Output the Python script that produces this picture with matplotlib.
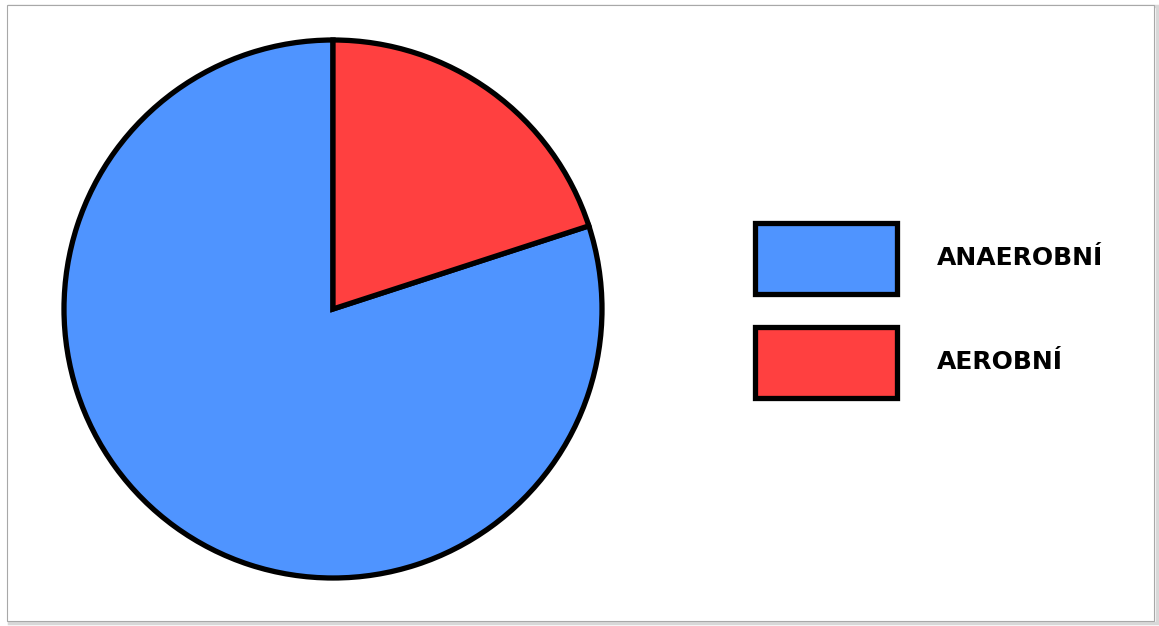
from matplotlib import pyplot as plt
from matplotlib.patches import Rectangle

labels = ["ANAEROBNÍ", "AEROBNÍ"]
shares = [80, 20]
colors = ["#4f94ff", "#ff4040"]

W, H = 1159, 626
fig = plt.figure(figsize=(W / 100, H / 100), dpi=100)

# light picture frame with a soft shadow, kept behind the chart
fig.patches.append(Rectangle((9 / W, 3 / H), 1148 / W, 617 / H, transform=fig.transFigure,
                             facecolor="none", edgecolor="#d8d8d8", lw=2.5, zorder=-2))
fig.patches.append(Rectangle((7 / W, 5 / H), 1147 / W, 616 / H, transform=fig.transFigure,
                             facecolor="white", edgecolor="#a8a8a8", lw=0.8, zorder=-1))

cx, cy, r = 333, 309, 269
ax = fig.add_axes([(cx - r) / W, (H - cy - r) / H, 2 * r / W, 2 * r / H])
wedges, _ = ax.pie(shares, colors=colors, startangle=90, counterclock=True,
                   wedgeprops=dict(edgecolor="black", linewidth=3.8))
ax.set_xlim(-1, 1)
ax.set_ylim(-1, 1)
ax.set_aspect("equal")
ax.axis("off")

leg = fig.legend(wedges, labels, loc="upper left",
                 bbox_to_anchor=(755 / W, (H - 223) / H),
                 frameon=False, borderpad=0, borderaxespad=0,
                 handlelength=5.68, handleheight=4.0, labelspacing=1.32,
                 handletextpad=1.6,
                 prop=dict(family="DejaVu Sans", weight="bold", size=18))

fig.savefig("out.png", dpi=100)
